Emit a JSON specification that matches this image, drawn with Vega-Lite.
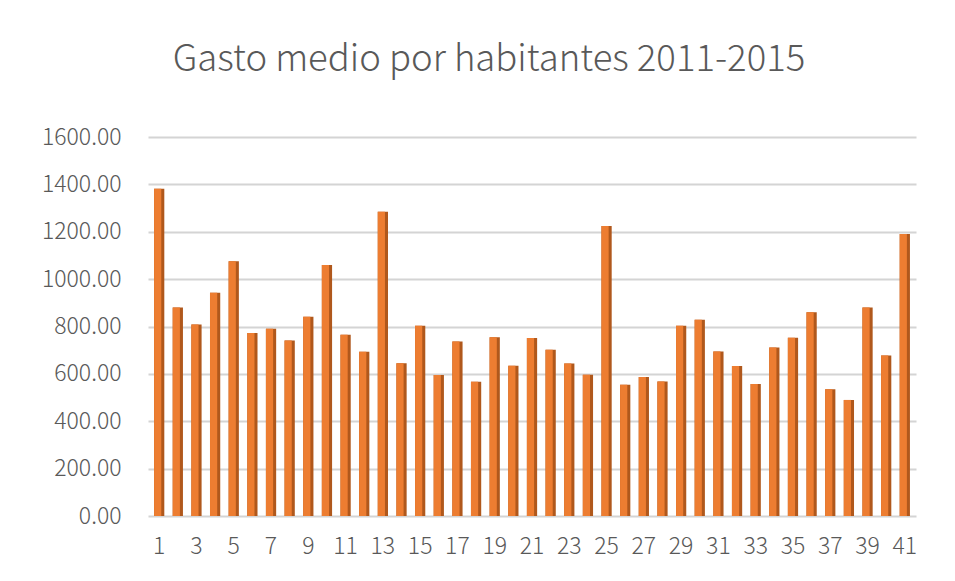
{
  "$schema": "https://vega.github.io/schema/vega-lite/v6.json",
  "autosize": "none",
  "width": 768,
  "height": 379,
  "padding": {"left": 148, "top": 137, "right": 39, "bottom": 65},
  "background": "white",
  "title": {
    "text": "Gasto medio por habitantes 2011-2015",
    "font": "Noto Sans CJK SC",
    "fontSize": 36.5,
    "fontWeight": 300,
    "color": "#595959",
    "anchor": "middle",
    "frame": "group",
    "dx": -43,
    "baseline": "alphabetic",
    "offset": 19
  },
  "data": {
    "values": [
      {"n": 1, "v": 1382}, {"n": 2, "v": 880}, {"n": 3, "v": 808}, {"n": 4, "v": 943},
      {"n": 5, "v": 1075}, {"n": 6, "v": 773}, {"n": 7, "v": 790}, {"n": 8, "v": 741},
      {"n": 9, "v": 841}, {"n": 10, "v": 1060}, {"n": 11, "v": 765}, {"n": 12, "v": 693},
      {"n": 13, "v": 1284}, {"n": 14, "v": 645}, {"n": 15, "v": 803}, {"n": 16, "v": 595},
      {"n": 17, "v": 737}, {"n": 18, "v": 567}, {"n": 19, "v": 755}, {"n": 20, "v": 634},
      {"n": 21, "v": 751}, {"n": 22, "v": 702}, {"n": 23, "v": 644}, {"n": 24, "v": 596},
      {"n": 25, "v": 1224}, {"n": 26, "v": 554}, {"n": 27, "v": 587}, {"n": 28, "v": 568},
      {"n": 29, "v": 803}, {"n": 30, "v": 828}, {"n": 31, "v": 694}, {"n": 32, "v": 633},
      {"n": 33, "v": 557}, {"n": 34, "v": 711}, {"n": 35, "v": 752}, {"n": 36, "v": 860},
      {"n": 37, "v": 535}, {"n": 38, "v": 490}, {"n": 39, "v": 880}, {"n": 40, "v": 678},
      {"n": 41, "v": 1190}
    ]
  },
  "encoding": {
    "x": {
      "field": "n",
      "type": "ordinal",
      "sort": "ascending",
      "title": null,
      "scale": {"paddingInner": 0.45, "paddingOuter": 0.325},
      "axis": {
        "labelExpr": "datum.value % 2 == 1 ? datum.label : ''",
        "labelAngle": 0,
        "labelFont": "Noto Sans CJK SC",
        "labelFontSize": 23,
        "labelFontWeight": 300,
        "labelColor": "#595959",
        "labelPadding": 19,
        "ticks": false,
        "domain": false,
        "grid": false
      }
    },
    "y": {
      "field": "v",
      "type": "quantitative",
      "title": null,
      "scale": {"domain": [0, 1600], "nice": false},
      "axis": {
        "values": [0, 200, 400, 600, 800, 1000, 1200, 1400, 1600],
        "format": ".2f",
        "labelFont": "Noto Sans CJK SC",
        "labelFontSize": 23,
        "labelFontWeight": 300,
        "labelColor": "#595959",
        "labelPadding": 27,
        "ticks": false,
        "domain": false,
        "grid": true,
        "gridColor": "#D4D4D4",
        "gridWidth": 2
      }
    }
  },
  "layer": [
    {"mark": {"type": "bar", "color": "#B0581C"}},
    {"mark": {"type": "bar", "color": "#ED7D31", "width": {"band": 0.7}, "xOffset": -1.5}}
  ],
  "config": {"view": {"stroke": null}}
}
